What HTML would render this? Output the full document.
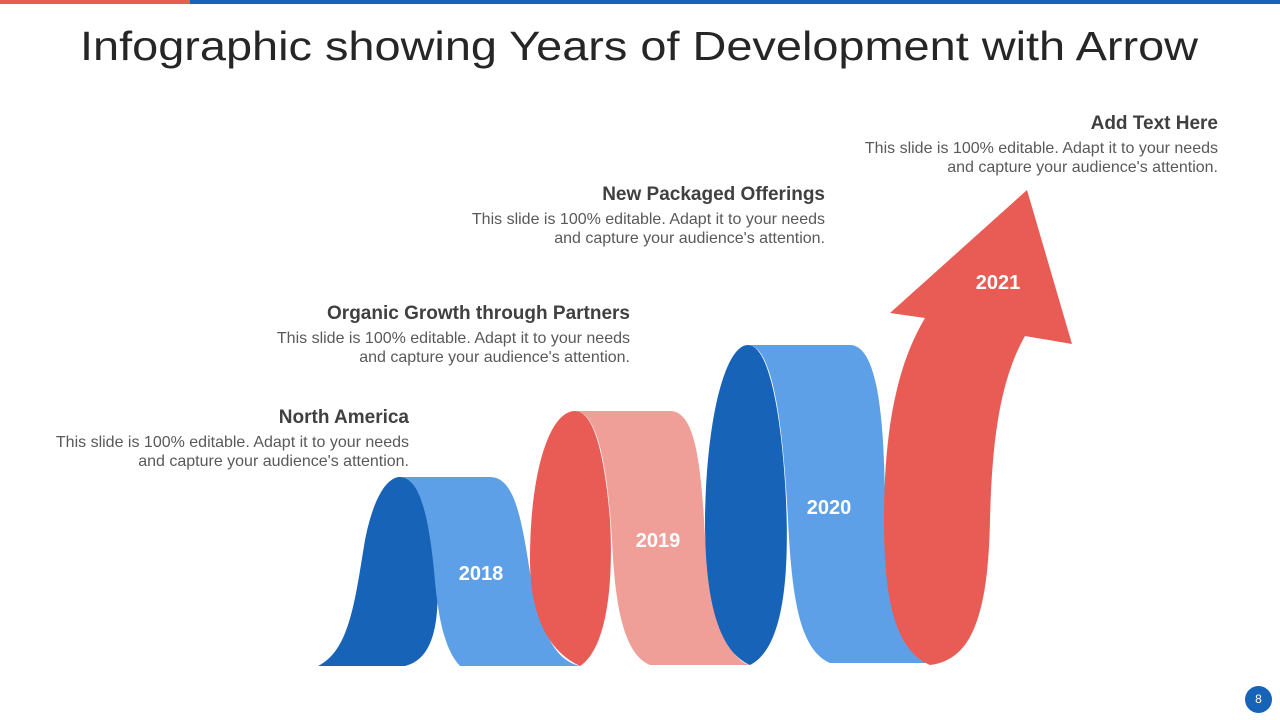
<!DOCTYPE html>
<html><head><meta charset="utf-8">
<style>
html,body{margin:0;padding:0;}
body{width:1280px;height:720px;position:relative;background:#fff;overflow:hidden;font-family:"Liberation Sans",sans-serif;}
.tb{position:absolute;top:0;height:4px;}
.blk{position:absolute;text-align:right;}
.blk h3{margin:0;font-size:19px;font-weight:bold;color:#404040;line-height:22px;}
.blk p{margin:4px 0 0 0;font-size:16px;line-height:19px;color:#595959;}
</style></head>
<body>
<div class="tb" style="left:0;width:190px;background:#e85c55"></div>
<div class="tb" style="left:190px;width:1090px;background:#1763b8"></div>
<svg width="1280" height="720" style="position:absolute;left:0;top:0">
<text x="80" y="60" font-size="41" fill="#262626" textLength="1118" lengthAdjust="spacingAndGlyphs" font-family="Liberation Sans, sans-serif">Infographic showing Years of Development with Arrow</text>
<path fill="#1763b8" d="M318,666 C350,650 355,600 365,540 C375,490 390,477 400,477 C420,477 432,520 437,580 C440,630 430,660 405,666 Z"/>
<path fill="#5ea0e8" d="M400,477 L490,477 C512,477 520,510 528,560 C538,625 552,660 580,666 L460,666 C445,650 438,620 434,570 C428,510 418,477 400,477 Z"/>
<path fill="#e85c55" d="M580,666 C545,650 530,610 530,560 C530,470 550,411 575,411 C595,411 605,460 610,520 C614,590 605,650 580,666 Z"/>
<path fill="#f09e98" d="M575,411 L670,411 C692,411 700,450 704,520 C708,600 725,660 750,665 L650,665 C625,655 615,610 612,540 C608,470 598,411 575,411 Z"/>
<path fill="#1763b8" d="M750,665 C715,650 705,590 705,520 C706,420 725,345 748,345 C770,345 782,420 786,500 C790,590 780,650 750,665 Z"/>
<path fill="#5ea0e8" d="M748,345 L850,345 C878,345 884,420 885,500 C886,600 900,655 930,663 L830,663 C800,650 792,600 788,520 C783,420 772,345 748,345 Z"/>
<path fill="#e85c55" d="M930,665 C895,650 884,600 884,520 C884,420 900,360 925,318 L890,313 L1027,190 L1072,344 L1025,336 C1000,380 992,440 990,520 C988,620 970,660 930,665 Z"/>
<g font-family="Liberation Sans, sans-serif" font-weight="bold" font-size="20" fill="#fff" text-anchor="middle">
<text x="481" y="580">2018</text>
<text x="658" y="547">2019</text>
<text x="829" y="514">2020</text>
<text x="998" y="289">2021</text>
</g>
</svg>
<div class="blk" style="right:871px;top:407px;width:460px">
<h3>North America</h3><p>This slide is 100% editable. Adapt it to your needs<br>and capture your audience's attention.</p></div>
<div class="blk" style="right:650px;top:303px;width:460px">
<h3>Organic Growth through Partners</h3><p>This slide is 100% editable. Adapt it to your needs<br>and capture your audience's attention.</p></div>
<div class="blk" style="right:455px;top:184px;width:460px">
<h3>New Packaged Offerings</h3><p>This slide is 100% editable. Adapt it to your needs<br>and capture your audience's attention.</p></div>
<div class="blk" style="right:62px;top:113px;width:460px">
<h3>Add Text Here</h3><p>This slide is 100% editable. Adapt it to your needs<br>and capture your audience's attention.</p></div>
<div style="position:absolute;left:1245px;top:686px;width:27px;height:27px;border-radius:50%;background:#1763b8;color:#fff;font-size:12px;line-height:27px;text-align:center">8</div>
</body></html>
